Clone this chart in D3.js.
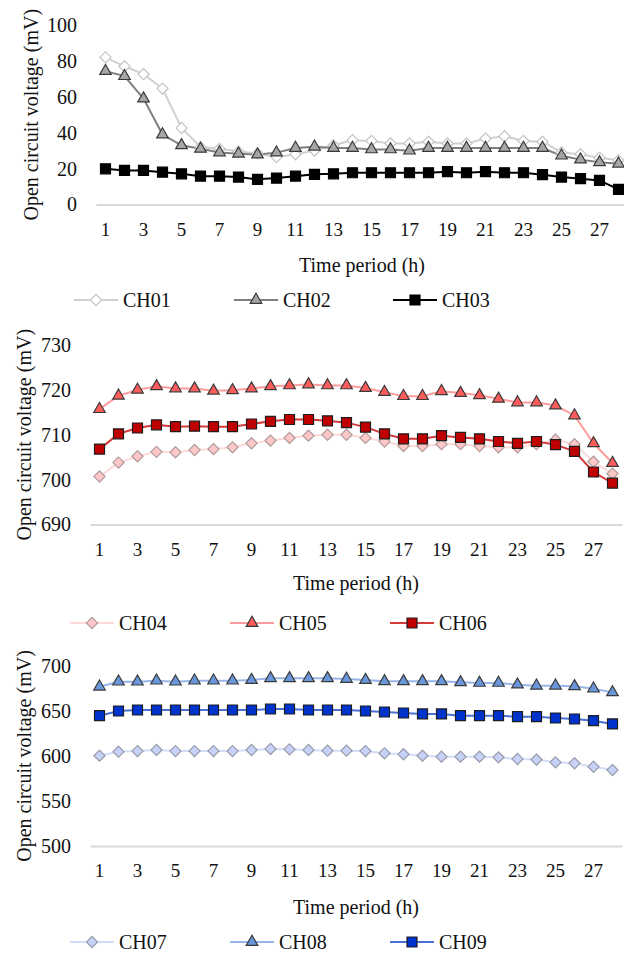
<!DOCTYPE html>
<html>
<head>
<meta http-equiv='Content-Type' content='text/html; charset=UTF-8' />
<title>Open circuit voltage</title>
<script src="https://d3js.org/d3.v7.min.js"></script>
<style>
  body { margin: 0; background: #fff; }
</style>
</head>
<body>
<svg id="chart" width="624" height="955"></svg>
<script>
// hours on the x axis
var hours = d3.range(1, 29);
var hourTicks = [1, 3, 5, 7, 9, 11, 13, 15, 17, 19, 21, 23, 25, 27];

// panel 1
var ch01 = [82, 77, 72.6, 64.6, 42.6, 32, 31, 29.5, 28.5, 26.4, 28, 30, 33, 35.8, 35.4, 34, 34, 35, 34, 34, 36.7, 38, 35.4, 35, 29, 28, 26, 24.6];
var ch02 = [74.3, 71.5, 59, 39, 33, 31, 29, 28.3, 27.8, 28.9, 31.5, 32.2, 31.5, 31.5, 30.7, 30.7, 30, 31.5, 31.5, 31.5, 31.5, 31.5, 31.5, 31.5, 27.2, 25, 23.5, 22.7];
var ch03 = [19.9, 19, 19, 18, 17.1, 15.8, 15.8, 15.3, 14, 14.7, 15.8, 16.8, 17.1, 17.7, 17.7, 17.7, 17.7, 17.7, 18.3, 17.7, 18.3, 17.7, 17.7, 16.6, 15.3, 14.4, 13.4, 8.4];
var yTicks1 = [0, 20, 40, 60, 80, 100];

// panel 2
var ch04 = [700.7, 703.8, 705.2, 706.2, 706.1, 706.6, 706.8, 707.2, 708.1, 708.7, 709.3, 709.8, 710, 710, 709.3, 708.5, 707.5, 707.5, 707.9, 707.9, 707.5, 707.2, 707.2, 707.9, 708.9, 707.9, 704, 701.3];
var ch05 = [715.7, 718.7, 720, 720.8, 720.3, 720.3, 719.8, 719.9, 720.3, 720.8, 721, 721.2, 721, 721, 720.4, 719.5, 718.6, 718.6, 719.7, 719.3, 718.8, 718, 717.2, 717.2, 716.5, 714.3, 708.1, 703.7];
var ch06 = [706.8, 710.2, 711.5, 712.2, 711.8, 711.9, 711.8, 711.8, 712.4, 713, 713.4, 713.4, 713.1, 712.7, 711.7, 710.2, 709.1, 709.1, 709.8, 709.4, 709.1, 708.5, 708.1, 708.5, 707.8, 706.3, 701.7, 699.2];
var yTicks2 = [690, 700, 710, 720, 730];

// panel 3
var ch07 = [600.4, 604.8, 605.5, 606.7, 605.5, 605.5, 605.5, 605.5, 606.7, 607.8, 607.4, 606.7, 605.9, 605.9, 605.5, 603, 601.9, 600.4, 599.3, 599.3, 599.3, 598.5, 596.7, 596, 593, 591.9, 588.1, 584.4];
var ch08 = [677, 682.6, 682.6, 683.7, 682.6, 683.7, 683.7, 683.7, 684.4, 686.3, 686.3, 686.3, 686.3, 685.6, 684.4, 683, 683, 683, 683, 681.9, 681.2, 681.2, 679.3, 678.1, 678.1, 677.4, 674.8, 670.7];
var ch09 = [644.8, 650, 651.1, 651.1, 651.1, 651.1, 651.1, 651.1, 651.1, 652.2, 652.2, 651.1, 651.1, 651.1, 650, 648.9, 647.8, 646.7, 646.7, 644.8, 644.8, 644.8, 643.7, 643.7, 642.2, 641.1, 639.2, 635.6];
var yTicks3 = [500, 550, 600, 650, 700];

var FONT = "'Liberation Serif', 'Times New Roman', 'DejaVu Serif', serif";

var svg = d3.select("#chart");

var shapes = {
  diamond: d3.symbol().type(d3.symbolSquare).size(62),
  triangle: d3.symbol().type(d3.symbolTriangle).size(58),
  square: d3.symbol().type(d3.symbolSquare).size(100)
};

function drawPanel(p){
  var x = d3.scaleBand().domain(hours).range([p.left, p.left + 532]).padding(0);
  var y = d3.scaleLinear().domain(p.domain).range([p.bottom, p.top]);
  var cx = function(h){ return x(h) + x.bandwidth() / 2; };
  var g = svg.append("g");

  // x axis
  var xa = g.append("g")
      .attr("transform", "translate(0," + p.bottom + ")")
      .call(d3.axisBottom(x).tickValues(hourTicks).tickSize(0).tickSizeOuter(0).tickPadding(18));
  xa.attr("font-family", null).attr("font-size", null);
  xa.select(".domain").attr("stroke", "#d9d9d9").attr("stroke-width", 2);
  xa.selectAll("text").style("font-family", FONT).style("font-size", "19px").attr("fill", "#111");

  // y axis
  var ya = g.append("g")
      .attr("transform", "translate(" + p.left + ",0)")
      .call(d3.axisLeft(y).tickValues(p.ticks).tickSize(0).tickPadding(19));
  ya.attr("font-family", null).attr("font-size", null);
  ya.select(".domain").remove();
  ya.selectAll("text").style("font-family", FONT).style("font-size", "20px").attr("fill", "#111");

  g.append("text")
      .attr("x", p.left + 266)
      .attr("y", p.titleY)
      .attr("dy", "0.35em")
      .attr("text-anchor", "middle")
      .style("font-family", FONT)
      .style("font-size", "20px")
      .attr("fill", "#111")
      .text("Time period (h)");

  g.append("text")
      .attr("transform", "translate(" + p.yTitleX + "," + ((p.top + p.bottom) / 2) + ") rotate(-90)")
      .attr("dy", "0.35em")
      .attr("text-anchor", "middle")
      .style("font-family", FONT)
      .style("font-size", "20px")
      .attr("fill", "#111")
      .text("Open circuit voltage (mV)");

  var line = d3.line()
      .x(function(d, i){ return cx(hours[i]); })
      .y(function(d){ return y(d); });

  p.series.forEach(function(s){
    g.append("path")
        .datum(s.values)
        .attr("fill", "none")
        .attr("stroke", s.line)
        .attr("stroke-width", 2)
        .attr("d", line);
  });

  p.series.forEach(function(s){
    g.append("g")
      .selectAll("path")
      .data(s.values)
      .enter().append("path")
        .attr("d", shapes[s.shape]())
        .attr("transform", function(d, i){
          return "translate(" + cx(hours[i]) + "," + y(d) + ")" + (s.shape == "diamond" ? " rotate(45)" : "");
        })
        .attr("fill", s.fill)
        .attr("stroke", s.stroke)
        .attr("stroke-width", 1.2);
  });

  // legend
  var lg = g.append("g").selectAll("g")
      .data(p.series)
      .enter().append("g")
        .attr("transform", function(d, i){ return "translate(" + p.legendX[i] + "," + p.legendY + ")"; });
  lg.append("line")
      .attr("x1", -22).attr("x2", 22)
      .attr("stroke", function(d){ return d.line; })
      .attr("stroke-width", 2);
  lg.append("path")
      .attr("d", function(d){ return shapes[d.shape](); })
      .attr("transform", function(d){ return d.shape == "diamond" ? "rotate(45)" : null; })
      .attr("fill", function(d){ return d.fill; })
      .attr("stroke", function(d){ return d.stroke; })
      .attr("stroke-width", 1.2);
  lg.append("text")
      .attr("x", 27)
      .attr("dy", "0.35em")
      .style("font-family", FONT)
      .style("font-size", "20px")
      .attr("fill", "#111")
      .text(function(d){ return d.name; });
}

drawPanel({
  left: 96, top: 25, bottom: 204.5, domain: [0, 100], ticks: yTicks1,
  titleY: 265, yTitleX: 31, legendY: 300, legendX: [96, 256, 415],
  series: [
    {name: "CH01", values: ch01, shape: "diamond", line: "#d0d0d0", fill: "#ffffff", stroke: "#c4c4c4"},
    {name: "CH02", values: ch02, shape: "triangle", line: "#7f7f7f", fill: "#a6a6a6", stroke: "#3a3a3a"},
    {name: "CH03", values: ch03, shape: "square", line: "#000000", fill: "#000000", stroke: "#000000"}
  ]
});

drawPanel({
  left: 90, top: 345, bottom: 524.5, domain: [690, 730], ticks: yTicks2,
  titleY: 583, yTitleX: 24, legendY: 623, legendX: [92, 252, 412],
  series: [
    {name: "CH04", values: ch04, shape: "diamond", line: "#ffd9d9", fill: "#ffc8c8", stroke: "#b09a9a"},
    {name: "CH05", values: ch05, shape: "triangle", line: "#ff9c9c", fill: "#ff5c5c", stroke: "#3a3a3a"},
    {name: "CH06", values: ch06, shape: "square", line: "#d33a3a", fill: "#c00000", stroke: "#1e1e1e"}
  ]
});

drawPanel({
  left: 90, top: 666, bottom: 846, domain: [500, 700], ticks: yTicks3,
  titleY: 907, yTitleX: 24, legendY: 942, legendX: [92, 252, 412],
  series: [
    {name: "CH07", values: ch07, shape: "diamond", line: "#d3ddf8", fill: "#c6d2f8", stroke: "#9a9aa8"},
    {name: "CH08", values: ch08, shape: "triangle", line: "#98b5ea", fill: "#6a96da", stroke: "#3a3a3a"},
    {name: "CH09", values: ch09, shape: "square", line: "#4a72d6", fill: "#0033cc", stroke: "#1e1e1e"}
  ]
});
</script>
</body>
</html>
